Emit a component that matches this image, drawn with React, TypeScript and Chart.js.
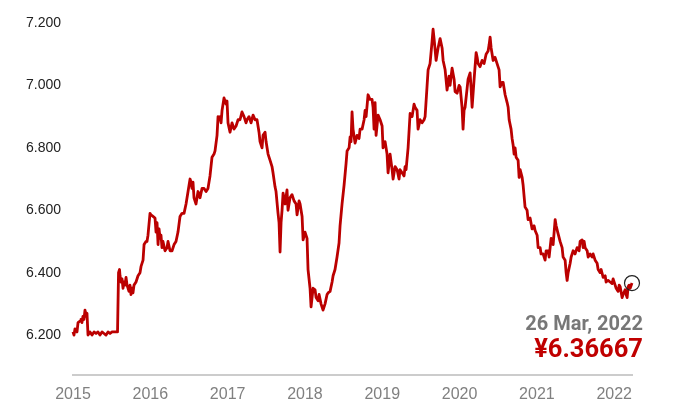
import React, { useEffect, useRef } from "react";
import { Chart, registerables } from "chart.js";

Chart.register(...registerables);

// Dates as decimal years
const dateYears = [
  2015.000, 2015.013, 2015.026, 2015.052, 2015.065, 2015.091, 2015.103, 2015.116, 2015.129, 2015.142,
  2015.155, 2015.168, 2015.181, 2015.194, 2015.220, 2015.246, 2015.272, 2015.298, 2015.323, 2015.349,
  2015.375, 2015.401, 2015.427, 2015.453, 2015.479, 2015.505, 2015.530, 2015.556, 2015.576, 2015.589,
  2015.602, 2015.608, 2015.621, 2015.634, 2015.647, 2015.660, 2015.673, 2015.686, 2015.699, 2015.712,
  2015.724, 2015.737, 2015.750, 2015.763, 2015.776, 2015.789, 2015.815, 2015.841, 2015.867, 2015.880,
  2015.906, 2015.919, 2015.944, 2015.957, 2015.970, 2015.996, 2016.009, 2016.035, 2016.061, 2016.074,
  2016.087, 2016.100, 2016.113, 2016.126, 2016.138, 2016.151, 2016.164, 2016.190, 2016.216, 2016.229,
  2016.255, 2016.281, 2016.307, 2016.332, 2016.358, 2016.384, 2016.410, 2016.436, 2016.462, 2016.488,
  2016.514, 2016.527, 2016.539, 2016.552, 2016.565, 2016.591, 2016.604, 2016.617, 2016.643, 2016.669,
  2016.695, 2016.721, 2016.746, 2016.772, 2016.798, 2016.824, 2016.837, 2016.863, 2016.876, 2016.889,
  2016.902, 2016.915, 2016.928, 2016.953, 2016.979, 2016.992, 2017.005, 2017.031, 2017.057, 2017.083,
  2017.109, 2017.135, 2017.160, 2017.186, 2017.212, 2017.238, 2017.251, 2017.277, 2017.303, 2017.329,
  2017.355, 2017.380, 2017.406, 2017.419, 2017.445, 2017.458, 2017.484, 2017.497, 2017.523, 2017.549,
  2017.574, 2017.587, 2017.613, 2017.626, 2017.652, 2017.665, 2017.678, 2017.691, 2017.704, 2017.717,
  2017.743, 2017.768, 2017.781, 2017.807, 2017.833, 2017.859, 2017.885, 2017.898, 2017.924, 2017.937,
  2017.963, 2017.976, 2018.001, 2018.027, 2018.040, 2018.066, 2018.079, 2018.092, 2018.105, 2018.131,
  2018.144, 2018.170, 2018.183, 2018.208, 2018.234, 2018.260, 2018.286, 2018.299, 2018.325, 2018.351,
  2018.364, 2018.389, 2018.415, 2018.441, 2018.454, 2018.480, 2018.506, 2018.532, 2018.545, 2018.571,
  2018.584, 2018.596, 2018.609, 2018.622, 2018.648, 2018.674, 2018.700, 2018.713, 2018.739, 2018.765,
  2018.778, 2018.791, 2018.816, 2018.842, 2018.868, 2018.881, 2018.894, 2018.907, 2018.920, 2018.946,
  2018.972, 2018.998, 2019.010, 2019.036, 2019.062, 2019.075, 2019.101, 2019.127, 2019.140, 2019.166,
  2019.192, 2019.217, 2019.230, 2019.256, 2019.282, 2019.295, 2019.308, 2019.334, 2019.360, 2019.386,
  2019.411, 2019.424, 2019.450, 2019.463, 2019.489, 2019.515, 2019.541, 2019.554, 2019.580, 2019.593,
  2019.618, 2019.644, 2019.657, 2019.670, 2019.696, 2019.722, 2019.748, 2019.774, 2019.787, 2019.813,
  2019.838, 2019.864, 2019.877, 2019.903, 2019.929, 2019.942, 2019.968, 2019.994, 2020.007, 2020.032,
  2020.045, 2020.058, 2020.071, 2020.097, 2020.110, 2020.136, 2020.149, 2020.162, 2020.188, 2020.214,
  2020.227, 2020.239, 2020.265, 2020.291, 2020.317, 2020.343, 2020.369, 2020.382, 2020.395, 2020.408,
  2020.434, 2020.459, 2020.485, 2020.511, 2020.524, 2020.550, 2020.563, 2020.589, 2020.615, 2020.628,
  2020.641, 2020.666, 2020.679, 2020.692, 2020.705, 2020.718, 2020.731, 2020.757, 2020.770, 2020.783,
  2020.809, 2020.822, 2020.847, 2020.873, 2020.886, 2020.912, 2020.938, 2020.964, 2020.977, 2021.003,
  2021.016, 2021.042, 2021.054, 2021.080, 2021.106, 2021.119, 2021.145, 2021.158, 2021.184, 2021.210,
  2021.236, 2021.249, 2021.274, 2021.300, 2021.326, 2021.339, 2021.365, 2021.378, 2021.391, 2021.404,
  2021.430, 2021.443, 2021.469, 2021.494, 2021.520, 2021.546, 2021.559, 2021.585, 2021.598, 2021.611,
  2021.624, 2021.650, 2021.663, 2021.688, 2021.714, 2021.727, 2021.753, 2021.779, 2021.792, 2021.818,
  2021.831, 2021.857, 2021.883, 2021.895, 2021.921, 2021.947, 2021.973, 2021.986, 2022.012, 2022.025,
  2022.051, 2022.064, 2022.077, 2022.102, 2022.115, 2022.141, 2022.154, 2022.167, 2022.180, 2022.193,
  2022.206, 2022.230,
];

// CNY per USD
const cnyValues = [
  6.21, 6.20, 6.22, 6.21, 6.24, 6.245, 6.25, 6.24, 6.26, 6.25,
  6.28, 6.26, 6.27, 6.20, 6.21, 6.20, 6.21, 6.205, 6.21, 6.20,
  6.21, 6.205, 6.20, 6.21, 6.205, 6.21, 6.21, 6.21, 6.21, 6.40,
  6.41, 6.39, 6.37, 6.38, 6.35, 6.37, 6.36, 6.385, 6.36, 6.35,
  6.34, 6.36, 6.33, 6.35, 6.335, 6.36, 6.37, 6.39, 6.40, 6.42,
  6.44, 6.49, 6.50, 6.50, 6.52, 6.59, 6.585, 6.58, 6.575, 6.53,
  6.56, 6.49, 6.54, 6.51, 6.52, 6.48, 6.50, 6.47, 6.48, 6.50,
  6.47, 6.47, 6.49, 6.50, 6.53, 6.58, 6.59, 6.59, 6.62, 6.66,
  6.70, 6.69, 6.67, 6.69, 6.64, 6.62, 6.64, 6.66, 6.64, 6.67,
  6.67, 6.66, 6.67, 6.71, 6.77, 6.78, 6.79, 6.84, 6.90, 6.89,
  6.90, 6.88, 6.92, 6.96, 6.94, 6.95, 6.88, 6.85, 6.88, 6.86,
  6.87, 6.89, 6.89, 6.915, 6.90, 6.88, 6.89, 6.90, 6.88, 6.905,
  6.89, 6.89, 6.85, 6.82, 6.80, 6.84, 6.85, 6.82, 6.78, 6.76,
  6.74, 6.72, 6.675, 6.66, 6.59, 6.56, 6.466, 6.56, 6.60, 6.655,
  6.62, 6.665, 6.60, 6.64, 6.65, 6.63, 6.62, 6.585, 6.63, 6.62,
  6.58, 6.505, 6.53, 6.51, 6.41, 6.35, 6.29, 6.32, 6.35, 6.345,
  6.32, 6.31, 6.33, 6.30, 6.28, 6.30, 6.33, 6.335, 6.34, 6.37,
  6.39, 6.41, 6.45, 6.495, 6.55, 6.62, 6.68, 6.75, 6.79, 6.80,
  6.835, 6.82, 6.915, 6.86, 6.815, 6.84, 6.83, 6.86, 6.86, 6.89,
  6.92, 6.90, 6.97, 6.955, 6.955, 6.93, 6.86, 6.945, 6.84, 6.905,
  6.89, 6.87, 6.80, 6.82, 6.78, 6.72, 6.78, 6.73, 6.70, 6.74,
  6.73, 6.70, 6.73, 6.72, 6.71, 6.74, 6.73, 6.80, 6.91, 6.90,
  6.94, 6.93, 6.92, 6.86, 6.89, 6.88, 6.89, 6.90, 7.00, 7.05,
  7.07, 7.14, 7.18, 7.15, 7.08, 7.12, 7.15, 7.12, 7.08, 7.05,
  6.985, 7.03, 7.00, 7.055, 7.02, 6.98, 6.975, 7.00, 6.995, 6.93,
  6.86, 6.92, 6.93, 6.99, 7.02, 7.04, 6.99, 6.93, 7.02, 7.105,
  7.09, 7.07, 7.06, 7.08, 7.07, 7.10, 7.11, 7.13, 7.155, 7.12,
  7.08, 7.09, 7.07, 7.05, 6.995, 7.01, 7.01, 6.97, 6.945, 6.93,
  6.89, 6.86, 6.83, 6.81, 6.78, 6.80, 6.77, 6.76, 6.705, 6.73,
  6.705, 6.68, 6.61, 6.60, 6.57, 6.575, 6.54, 6.55, 6.535, 6.52,
  6.48, 6.48, 6.46, 6.46, 6.44, 6.47, 6.47, 6.45, 6.51, 6.49,
  6.57, 6.55, 6.525, 6.50, 6.48, 6.45, 6.44, 6.40, 6.375, 6.40,
  6.43, 6.45, 6.47, 6.46, 6.48, 6.47, 6.50, 6.505, 6.48, 6.50,
  6.48, 6.47, 6.45, 6.46, 6.45, 6.46, 6.44, 6.43, 6.41, 6.40,
  6.41, 6.385, 6.39, 6.37, 6.375, 6.37, 6.365, 6.38, 6.36, 6.35,
  6.34, 6.36, 6.355, 6.32, 6.33, 6.345, 6.33, 6.32, 6.355, 6.36,
  6.35, 6.36667,
];

const yearTicks = [2015, 2016, 2017, 2018, 2019, 2020, 2021, 2022];
const rateTicks = [6.2, 6.4, 6.6, 6.8, 7.0, 7.2];
const lastDateLabel = "26 Mar, 2022";
const lastValueLabel = "¥6.36667";

export default function App() {
  const canvasRef = useRef<HTMLCanvasElement | null>(null);

  useEffect(() => {
    const canvas = canvasRef.current;
    if (!canvas) return;
    const points = dateYears.map((x, i) => ({ x, y: cnyValues[i] }));
    const last = points.length - 1;

    const lastLabelPlugin = {
      id: "lastLabel",
      afterDatasetsDraw(chart: any) {
        const el = chart.getDatasetMeta(0).data[last];
        if (!el) return;
        const ctx = chart.ctx;
        ctx.save();
        ctx.textAlign = "right";
        ctx.textBaseline = "alphabetic";
        ctx.font = "bold 20px Roboto, 'Liberation Sans', sans-serif";
        ctx.fillStyle = "#777777";
        ctx.fillText(lastDateLabel, el.x + 11, el.y + 47);
        ctx.font = "bold 25.5px Roboto, 'Liberation Sans', sans-serif";
        ctx.fillStyle = "#c00000";
        ctx.fillText(lastValueLabel, el.x + 11, el.y + 74);
        ctx.restore();
      },
    };

    const chart = new Chart(canvas, {
      type: "line",
      data: {
        datasets: [
          {
            data: points,
            borderColor: "#bb0000",
            borderWidth: 2.8,
            borderJoinStyle: "round",
            tension: 0,
            pointRadius: (c: any) => (c.dataIndex === last ? 7.5 : 0),
            pointHoverRadius: 0,
            pointBorderColor: "#222222",
            pointBackgroundColor: "rgba(0,0,0,0)",
            pointBorderWidth: 1.2,
            clip: false,
          } as any,
        ],
      },
      options: {
        responsive: false,
        animation: false,
        devicePixelRatio: 1,
        events: [],
        layout: { padding: { left: 26, right: 48, top: 23, bottom: 0 } },
        plugins: { legend: { display: false }, tooltip: { enabled: false } },
        scales: {
          x: {
            type: "linear",
            min: 2015,
            max: 2022.23,
            grid: { display: false, drawTicks: false },
            border: { display: true, color: "#cccccc", width: 2 },
            ticks: {
              padding: 10,
              color: "#808080",
              font: { family: "'Liberation Sans', Arial, sans-serif", size: 16 },
              maxRotation: 0,
              autoSkip: false,
              callback: (v: any) => String(v),
            },
            afterBuildTicks: (s: any) => {
              s.ticks = yearTicks.map((v) => ({ value: v }));
            },
            afterFit: (s: any) => {
              s.height = 36;
            },
          },
          y: {
            type: "linear",
            min: 6.072,
            max: 7.2,
            grid: { display: false, drawTicks: false },
            border: { display: false },
            ticks: {
              crossAlign: "far",
              padding: 0,
              color: "#222222",
              font: { family: "'Liberation Sans', Arial, sans-serif", size: 14 },
              callback: (v: any) => Number(v).toFixed(3),
            },
            afterBuildTicks: (s: any) => {
              s.ticks = rateTicks.map((v) => ({ value: v }));
            },
            afterFit: (s: any) => {
              s.width = 47;
            },
          },
        },
      },
      plugins: [lastLabelPlugin],
    });

    return () => chart.destroy();
  }, []);

  return (
    <div
      style={{
        position: "fixed",
        left: 0,
        top: 0,
        width: 680,
        height: 411,
        background: "#ffffff",
      }}
    >
      <canvas ref={canvasRef} width={680} height={411} style={{ display: "block" }} />
    </div>
  );
}
